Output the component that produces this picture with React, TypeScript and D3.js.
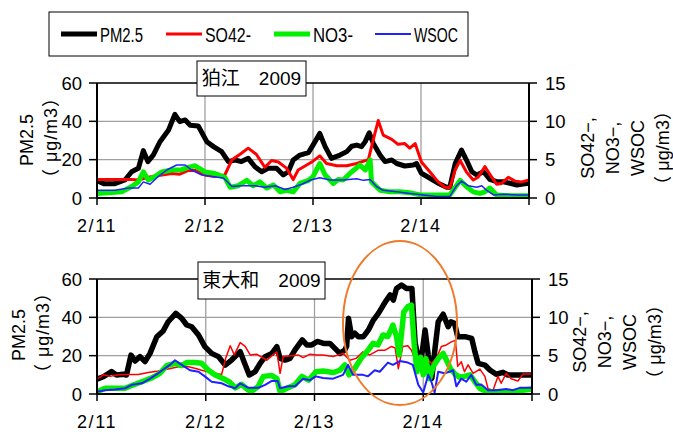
import React from 'react';
import * as d3 from 'd3';

type Pt = [number, number]; // [hours since 2/11 00:00, concentration]

// Axis ticks and labels
const dayLabels = ['2/11', '2/12', '2/13', '2/14'];
const dayHours = [0, 24, 48, 72, 96];
const pmTicks = [0, 20, 40, 60];
const ionTicks = [0, 5, 10, 15];

// 狛江 2009 — PM2.5 (left axis, µg/m3)
const komaePm25: Pt[] = [
  [0, 9], [1.5, 7.5], [4, 7.5], [6.2, 9.4], [7.7, 13.7], [9.2, 15.5], [10.3, 24.7], [11.3, 19],
  [12.5, 22.4], [14, 29.4], [15.9, 35.5], [17.3, 43.6], [18.4, 39.8], [19.6, 40.7], [20.7, 38],
  [22.5, 37.6], [24.4, 29.4], [25.9, 26.8], [27.7, 24.2], [29.2, 19], [30.7, 19.8], [32.1, 19],
  [33.6, 20.7], [35.1, 16.3], [36.6, 13.7], [38, 15.5], [39.9, 15.5], [41.4, 12], [42.5, 13.7],
  [43.6, 19.8], [45.1, 22.4], [47, 23.7], [48, 27.6], [49.5, 33.7], [50.7, 26.8], [52.1, 20.7],
  [54, 22.4], [55.5, 24.2], [56.6, 27], [57.7, 27.6], [58.8, 26.8], [59.6, 29.4], [60.5, 34],
  [61.4, 28.5], [62.9, 22.4], [64, 19], [65.5, 19.8], [66.6, 18], [68.4, 16.7], [70.3, 17.2],
  [71, 18], [72.1, 12.9], [74, 10.3], [75.8, 7.7], [77.7, 5.6], [78.4, 5.6], [79.6, 18], [81, 25],
  [82.1, 19.8], [83.3, 13.7], [84.4, 12], [85.9, 13.7], [87.3, 9.7], [88.8, 8.5], [90.3, 8.5],
  [91.8, 7.7], [93.3, 6.8], [94.7, 7.3], [96, 7.7],
];
// 狛江 2009 — SO42- (right axis)
const komaeSo4: Pt[] = [
  [0, 2.4], [3, 2.4], [6, 2.4], [7.7, 2.4], [9.2, 2.35], [11.4, 2.7], [14.4, 3.0], [16.6, 3.2],
  [18.4, 3.1], [20.3, 3.6], [21.8, 3.6], [24, 3.0], [26.2, 2.8], [28.4, 3.0], [30, 5.0], [31.8, 5.7],
  [33.6, 6.5], [35.4, 5.7], [37.3, 4.0], [38.8, 4.9], [40.3, 4.7], [42.1, 3.9], [43.6, 2.4],
  [44.7, 3.65], [46.6, 4.3], [48, 4.8], [49.5, 5.5], [51, 4.5], [53.3, 4.2], [55.5, 4.2], [57.7, 4.5],
  [60.3, 5], [61.4, 7.6], [62.5, 10.1], [63.6, 8.2], [65.5, 7.65], [66.9, 7.0], [68.4, 7.1],
  [69.5, 6.5], [70.7, 7.1], [72.1, 4.7], [74, 3.4], [75.8, 2.1], [77.3, 1.4], [78.4, 1.3],
  [79.6, 3.65], [80.7, 4.9], [82.1, 3.4], [83.6, 2.35], [84.7, 2.7], [86.2, 4.1], [87.3, 3.1],
  [88.8, 1.8], [89.9, 1.9], [91.4, 2.7], [92.9, 2.2], [94.4, 2.1], [96, 2.35],
];
// 狛江 2009 — NO3- (right axis)
const komaeNo3: Pt[] = [
  [0, 0.6], [2.5, 0.7], [5.5, 0.8], [7.7, 1.5], [9.2, 2.1], [10.3, 3.4], [11.4, 2.35], [12.9, 2.8],
  [14.4, 3.4], [16.6, 3.65], [18.8, 3.7], [20.3, 4.0], [21.8, 4.2], [24, 3.4], [26.2, 3.2],
  [28.4, 2.7], [29.6, 1.4], [31.4, 1.6], [33.3, 2.3], [34.7, 1.6], [36.2, 2.1], [37.7, 1.3],
  [39.2, 1.7], [40.7, 0.8], [42.1, 1.0], [43.6, 0.8], [45.1, 1.9], [47, 2.3], [48, 2.8], [49.5, 4.5],
  [50.7, 3.0], [52.5, 1.9], [53.6, 2.4], [54.7, 2.35], [56.2, 3.2], [58.4, 4.3], [59.6, 3.65],
  [60.7, 4.95], [61, 2.1], [62.9, 1.0], [65.1, 0.8], [67.3, 0.8], [69.5, 0.7], [71.8, 0.4],
  [74, 0.4], [77, 0.4], [78.4, 0.4], [80.7, 2.3], [82.1, 1.5], [83.6, 0.8], [85.1, 0.6], [86.2, 0.8],
  [87.3, 1.3], [88.8, 0.4], [91.8, 0.3], [96, 0.3],
];
// 狛江 2009 — WSOC (right axis)
const komaeWsoc: Pt[] = [
  [0, 1.0], [4, 1.0], [7, 1.3], [9.2, 1.3], [10.3, 2.1], [11.8, 1.8], [13.6, 2.8], [15.5, 3.65],
  [17.7, 4.3], [19.6, 4.3], [21, 3.65], [23.3, 3.0], [25.5, 2.8], [28.1, 2.6], [30, 1.5], [32.1, 1.6],
  [35.1, 1.6], [37.3, 1.4], [39.6, 1.6], [41.8, 1.1], [43.6, 1.4], [45.5, 1.8], [47.5, 2.35],
  [49.5, 2.65], [51.8, 2.35], [54.7, 2.35], [57.7, 2.5], [59.2, 2.3], [60.7, 2.4], [62.1, 1.5],
  [63.6, 1.0], [66.6, 0.8], [69.5, 0.6], [72.5, 0.4], [75.5, 0.2], [78.4, 0.2], [79.9, 1.6],
  [81, 2.2], [82.5, 1.6], [84.4, 1.4], [85.5, 1.6], [86.6, 1.0], [88.1, 0.4], [90.3, 0.5],
  [93.3, 0.4], [96, 0.4],
];

// 東大和 2009 — PM2.5 (left axis)
const higashiyamatoPm25: Pt[] = [
  [0, 7.8], [1.4, 9], [3.2, 11.7], [4.3, 9.9], [5.8, 10.3], [6.5, 9.9], [7.5, 20.3], [8.4, 17.2],
  [9.5, 19.5], [10.6, 16.9], [11.7, 21.2], [13.2, 29.9], [14.6, 32.9], [15.7, 37.7], [17.4, 42.1],
  [18.7, 39.5], [19.8, 36], [20.9, 35.1], [22.4, 30.8], [23.8, 24.7], [25.3, 21.2], [26.8, 19.5],
  [28.3, 15.1], [29.7, 17.7], [31.6, 22.1], [32.5, 16.5], [33.6, 9.9], [34.9, 11.7], [36, 16],
  [37.1, 19.5], [38.6, 21.2], [39.7, 24.7], [40.4, 18.6], [41.5, 17.7], [42.6, 18.6], [43.7, 23],
  [45.3, 28.2], [46.3, 25.6], [47.4, 25.6], [48.6, 27.4], [50, 26.4], [51.4, 26.4], [52.5, 23.8],
  [53.6, 21.2], [54.7, 23], [55.1, 25], [55.5, 39.5], [56.2, 29.9], [56.9, 31.7], [57.7, 29.9],
  [58.8, 29.9], [59.9, 33.4], [61, 38.6], [62.1, 42.1], [63.2, 46.4], [63.9, 49], [64.7, 51.7],
  [65.4, 49], [66.1, 55.1], [67.2, 56.9], [68.3, 55.1], [69.5, 55.1], [70.2, 27], [71.3, 13.4],
  [72.4, 33.4], [73.1, 20.3], [73.9, 8.2], [74.6, 23.8], [75.3, 37.7], [76.4, 41.6], [77.5, 35.1],
  [78.1, 37.7], [78.9, 36.9], [79.6, 29.9], [81.2, 29.9], [82.7, 29], [83.4, 22], [84.1, 16],
  [85.6, 15.1], [86.7, 12.5], [88.1, 10.3], [89.6, 11.3], [90.7, 9.9], [93.3, 9.9], [96, 9.9],
];
// 東大和 2009 — SO42- (right axis)
const higashiyamatoSo4: Pt[] = [
  [0, 1.95], [1.4, 2.5], [2.9, 2.3], [4.7, 2.5], [6.9, 2.55], [9.1, 2.55], [11.3, 2.8], [13.5, 3.0],
  [15.7, 3.25], [18, 3.55], [20.2, 3.55], [21.6, 3.35], [23.1, 3.1], [25.3, 2.8], [27.5, 2.55],
  [28.4, 4.65], [29.4, 6.3], [30.3, 5.1], [31.6, 6.7], [32.7, 6.2], [33.8, 5.1], [35.2, 5.2],
  [37.5, 4.4], [38.6, 5], [39.7, 5.5], [40.4, 2.7], [41.1, 4.9], [43, 5.0], [44.4, 5.1], [45.5, 4.75],
  [47, 5.2], [48.5, 5.1], [49.9, 5.1], [52.1, 4.9], [54.3, 5.3], [55.8, 4.4], [57.2, 4.65],
  [58.7, 5.5], [60.2, 5.1], [62, 5.7], [63.5, 5.7], [65, 6.2], [65.8, 6.0], [66.5, 3.3], [67.5, 6.2],
  [68.6, 6.3], [69.4, 5.7], [70.5, 4.0], [71.6, 4.0], [72.7, 4.65], [73.8, 4.0], [74.9, 4.65],
  [76, 6.2], [77.1, 6.4], [78.2, 6.8], [79.1, 7.0], [79.6, 3.6], [80.4, 4.2], [81.1, 2.9],
  [81.9, 3.8], [83, 2.7], [84.5, 3.25], [85.6, 2.3], [86.3, 0.7], [87.4, 0.5], [88.5, 2.3],
  [89.2, 1.4], [90.3, 2.7], [91.4, 2.0], [92.9, 1.7], [94, 2.6], [96, 2.6],
];
// 東大和 2009 — NO3- (right axis)
const higashiyamatoNo3: Pt[] = [
  [0, 0.3], [1.8, 0.75], [4, 0.75], [6.2, 0.75], [7.7, 1.1], [9.9, 1.6], [12.1, 2.1], [13.9, 2.7],
  [15.4, 3.7], [17.2, 4.0], [18.7, 3.7], [19.8, 4.1], [21.6, 4.1], [23.1, 4.0], [24.6, 3.1],
  [26, 2.5], [27.9, 2.0], [29.4, 1.5], [30.5, 0.8], [31.9, 1.25], [33.4, 0.5], [34.5, 0.5],
  [35.6, 1.0], [36.7, 2.3], [38.6, 2.4], [39.7, 2.0], [40.4, 0.3], [41.9, 0.75], [43.7, 1.2],
  [45.2, 2.3], [46.7, 1.8], [48.3, 2.9], [49.9, 3.0], [52.1, 2.8], [53.6, 3.1], [54.7, 3.8],
  [55.6, 2.5], [56.9, 3.35], [58.3, 4.65], [59.8, 5.7], [60.9, 6.6], [62, 6.4], [63.1, 7.7],
  [64.2, 7.5], [65.3, 9.0], [66.1, 7.5], [66.7, 5.1], [67.7, 10.7], [68.6, 11.4], [69.4, 11.6],
  [70, 6.5], [70.6, 2.9], [71.4, 4.8], [72, 2.5], [72.6, 4.6], [73.4, 2.0], [74.2, 3.6], [75.3, 4.6],
  [76.4, 5.3], [77.3, 4.2], [78, 3.3], [79, 2.6], [80, 2.2], [81.1, 2.3], [82.3, 2.5], [83.4, 1.6],
  [84.5, 0.75], [85.9, 0.3], [88.9, 0.3], [91.8, 0.3], [94, 0.5], [96, 0.65],
];
// 東大和 2009 — WSOC (right axis)
const higashiyamatoWsoc: Pt[] = [
  [0, 0.3], [1.8, 0.5], [4, 0.6], [6.2, 0.75], [7.7, 1.2], [9.9, 1.4], [11.7, 2.0], [13.5, 2.7],
  [15, 3.35], [16.1, 3.8], [17.2, 4.4], [18.7, 3.8], [20.5, 3.1], [22.4, 2.9], [23.8, 2.3],
  [25.3, 1.6], [27.5, 1.4], [29, 1.0], [30.5, 0.75], [31.6, 1.4], [33.4, 0.8], [35.6, 0.8],
  [37.1, 1.2], [38.6, 1.7], [39.9, 1.7], [40.4, 0.75], [42.2, 1.0], [43.7, 1.0], [45.5, 2.0],
  [47, 1.8], [48.3, 2.3], [49.9, 2.1], [52.1, 2.0], [54.3, 2.5], [55.4, 3.8], [56.5, 2.5],
  [58.7, 2.5], [59.8, 2.3], [61.3, 3.1], [62.4, 2.9], [64.2, 4.1], [65.3, 3.8], [66.8, 4.3],
  [68.6, 4.1], [69.7, 3.8], [70.9, 1.2], [72, 0.2], [73.1, 2.5], [73.8, 1.6], [74.5, 0.2],
  [75.3, 2.9], [76.7, 2.7], [77.8, 2.9], [78.6, 3.1], [79.3, 1.0], [80.4, 2.0], [81.5, 1.6],
  [82.6, 2.5], [83.7, 1.2], [84.8, 1.25], [86.3, 0.5], [88.1, 0.5], [90.3, 0.65], [91.8, 0.5],
  [93.3, 0.8], [96, 0.8],
];

const legendNames = ['PM2.5', 'SO42-', 'NO3-', 'WSOC'];
const seriesColors = ['#000000', '#ff0000', '#00f000', '#1f1fff'];
const rightTitleLines = ['SO42−,', 'NO3−,', 'WSOC', '（ μg/m3）'];
const unitLabel = '（ μg/m3）';

const FONT = "'Liberation Sans', Arial, 'Noto Sans CJK JP', sans-serif";

interface PanelSpec {
  title: string;
  box: { x: number; y: number; w: number; h: number };
  frame: { l: number; r: number; t: number; b: number };
  series: Pt[][];
  widths: number[];
  leftTitleX: [number, number];
  rightTitleX: number;
  rightTitleCy: number;
  leftTitleCy: number;
}

const panels: PanelSpec[] = [
  {
    title: '狛江\u30002009',
    box: { x: 197, y: 61, w: 109, h: 35 },
    frame: { l: 97, r: 529, t: 83, b: 198 },
    series: [komaePm25, komaeSo4, komaeNo3, komaeWsoc],
    widths: [5, 3, 5, 1.5],
    leftTitleX: [27, 51],
    rightTitleX: 588,
    rightTitleCy: 148,
    leftTitleCy: 138,
  },
  {
    title: '東大和\u30002009',
    box: { x: 198, y: 262, w: 127, h: 37 },
    frame: { l: 97, r: 532, t: 279, b: 394 },
    series: [higashiyamatoPm25, higashiyamatoSo4, higashiyamatoNo3, higashiyamatoWsoc],
    widths: [5.5, 1.5, 5.5, 2],
    leftTitleX: [19, 43],
    rightTitleX: 580,
    rightTitleCy: 342,
    leftTitleCy: 333,
  },
];

function Panel({ spec }: { spec: PanelSpec }) {
  const { frame: f } = spec;
  const x = d3.scaleLinear().domain([0, 96]).range([f.l, f.r]);
  const yPm = d3.scaleLinear().domain([0, 60]).range([f.b, f.t]);
  const yIon = d3.scaleLinear().domain([0, 15]).range([f.b, f.t]);

  const lineFor = (i: number) =>
    d3
      .line<Pt>()
      .x((d) => x(d[0]))
      .y((d) => (i === 0 ? yPm(d[1]) : yIon(d[1])));

  return (
    <g>
      {/* grid */}
      {pmTicks.slice(1, -1).map((t) => (
        <line key={'h' + t} x1={f.l} x2={f.r} y1={yPm(t)} y2={yPm(t)} stroke="#a0a0a0" strokeWidth={1.3} />
      ))}
      {dayHours.slice(1, -1).map((h) => (
        <line key={'v' + h} x1={x(h)} x2={x(h)} y1={f.t} y2={f.b} stroke="#a0a0a0" strokeWidth={1.3} />
      ))}
      {/* series */}
      {spec.series.map((s, i) => (
        <path
          key={i}
          d={lineFor(i)(s) ?? ''}
          fill="none"
          stroke={seriesColors[i]}
          strokeWidth={spec.widths[i]}
          strokeLinejoin="round"
        />
      ))}
      {/* frame */}
      <line x1={f.l} x2={f.r} y1={f.t} y2={f.t} stroke="#000" strokeWidth={1.5} />
      <line x1={f.l} x2={f.l} y1={f.t} y2={f.b} stroke="#000" strokeWidth={2} />
      <line x1={f.r} x2={f.r} y1={f.t} y2={f.b} stroke="#000" strokeWidth={2} />
      <line x1={f.l} x2={f.r} y1={f.b} y2={f.b} stroke="#000" strokeWidth={2} />
      {/* left axis */}
      {pmTicks.map((t) => (
        <g key={'l' + t}>
          <line x1={f.l - 8} x2={f.l} y1={yPm(t)} y2={yPm(t)} stroke="#000" strokeWidth={1.5} />
          <text x={f.l - 15} y={yPm(t)} textAnchor="end" dominantBaseline="central" fontSize={18.5} fontFamily={FONT}>
            {t}
          </text>
        </g>
      ))}
      {/* right axis */}
      {ionTicks.map((t) => (
        <g key={'r' + t}>
          <line x1={f.r} x2={f.r + 8} y1={yIon(t)} y2={yIon(t)} stroke="#000" strokeWidth={1.5} />
          <text x={f.r + 16} y={yIon(t)} dominantBaseline="central" fontSize={18.5} fontFamily={FONT}>
            {t}
          </text>
        </g>
      ))}
      {/* time axis */}
      {dayHours.map((h) => (
        <line key={'t' + h} x1={x(h)} x2={x(h)} y1={f.b} y2={f.b + 7} stroke="#000" strokeWidth={1.5} />
      ))}
      {dayLabels.map((lab, i) => (
        <text
          key={lab}
          x={x(dayHours[i])}
          y={f.b + 34}
          textAnchor="middle"
          fontSize={18}
          letterSpacing={1.6}
          fontFamily={FONT}
        >
          {lab}
        </text>
      ))}
      {/* axis titles */}
      <text
        transform={`translate(${spec.leftTitleX[0]},${spec.leftTitleCy + 2}) rotate(-90)`}
        textAnchor="middle"
        dominantBaseline="central"
        fontSize={18}
        fontFamily={FONT}
      >
        PM2.5
      </text>
      <text
        transform={`translate(${spec.leftTitleX[1]},${spec.leftTitleCy}) rotate(-90)`}
        textAnchor="middle"
        dominantBaseline="central"
        fontSize={18}
        fontFamily={FONT}
        textLength={98}
        lengthAdjust="spacing"
      >
        {unitLabel}
      </text>
      {rightTitleLines.map((s, i) => (
        <text
          key={s}
          transform={`translate(${spec.rightTitleX + i * 25},${spec.rightTitleCy}) rotate(-90)`}
          textAnchor="middle"
          dominantBaseline="central"
          fontSize={18}
          fontFamily={FONT}
          {...(i === 3 ? { textLength: 92, lengthAdjust: 'spacing' } : {})}
        >
          {s}
        </text>
      ))}
      {/* site label */}
      <rect x={spec.box.x} y={spec.box.y} width={spec.box.w} height={spec.box.h} fill="#fff" stroke="#000" strokeWidth={1} />
      <text
        x={spec.box.x + spec.box.w / 2}
        y={spec.box.y + spec.box.h / 2}
        textAnchor="middle"
        dominantBaseline="central"
        fontSize={19}
        fontFamily={FONT}
      >
        {spec.title}
      </text>
    </g>
  );
}

function Legend() {
  const sampleX = [61, 166, 274, 375];
  const textW = [43, 46, 40, 44];
  const widths = [5, 3, 5, 2];
  return (
    <g>
      <rect x={49} y={12} width={419} height={44} fill="#fff" stroke="#000" strokeWidth={1} />
      {legendNames.map((name, i) => (
        <g key={name}>
          <line x1={sampleX[i]} x2={sampleX[i] + 36} y1={34} y2={34} stroke={seriesColors[i]} strokeWidth={widths[i]} />
          <text
            x={sampleX[i] + 39}
            y={41.5}
            fontSize={19.5}
            fontFamily={FONT}
            textLength={textW[i]}
            lengthAdjust="spacingAndGlyphs"
          >
            {name}
          </text>
        </g>
      ))}
    </g>
  );
}

export default function App() {
  return (
    <svg
      width={673}
      height={432}
      viewBox="0 0 673 432"
      style={{ position: 'absolute', left: 0, top: 0, background: '#fff' }}
    >
      <rect width={673} height={432} fill="#fff" />
      <Legend />
      {panels.map((p) => (
        <Panel key={p.title} spec={p} />
      ))}
      <ellipse cx={400} cy={323} rx={57} ry={82} fill="none" stroke="#ef7a2a" strokeWidth={2} />
    </svg>
  );
}
